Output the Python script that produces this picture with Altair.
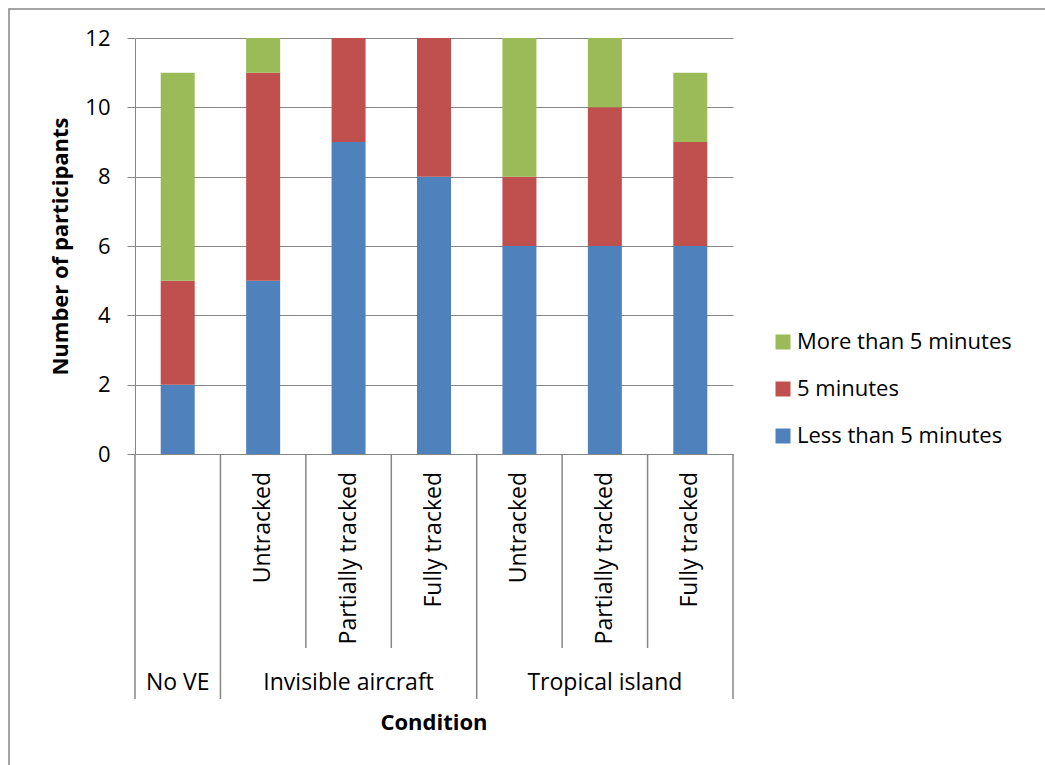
import altair as alt
import pandas as pd

# Bars, left to right
groups = ["No VE", "Invisible aircraft", "Invisible aircraft", "Invisible aircraft",
          "Tropical island", "Tropical island", "Tropical island"]
tracking = ["", "Untracked", "Partially tracked", "Fully tracked",
            "Untracked", "Partially tracked", "Fully tracked"]

# Number of participants per answer
less_than_5 = [2, 5, 9, 8, 6, 6, 6]
five_minutes = [3, 6, 3, 4, 2, 4, 3]
more_than_5 = [6, 1, 0, 0, 4, 2, 2]

series = ["Less than 5 minutes", "5 minutes", "More than 5 minutes"]
series_colors = ["#4F81BD", "#C0504D", "#9BBB59"]
y_ticks = [0, 2, 4, 6, 8, 10, 12]

FONT = "Open Sans"
GRAY = "#868686"
W, H = 598, 416

# long table for the stacked bars
rows = []
for i in range(len(groups)):
    for k, vals in enumerate([less_than_5, five_minutes, more_than_5]):
        rows.append({"pos": i, "series": series[k], "k": k, "count": vals[i]})
bars_df = pd.DataFrame(rows)

# category labels under the axis
sub_df = pd.DataFrame({"pos": list(range(len(groups))), "label": tracking})
sub_df = sub_df[sub_df["label"] != ""]

group_rows = []
for g in dict.fromkeys(groups):
    idx = [i for i, name in enumerate(groups) if name == g]
    group_rows.append({"pos": sum(idx) / len(idx), "label": g})
group_df = pd.DataFrame(group_rows)

# divider lines between categories: long ones between groups, short ones inside
div_rows = []
for b in range(len(groups) + 1):
    left = groups[b - 1] if b > 0 else None
    right = groups[b] if b < len(groups) else None
    div_rows.append({"edge": b - 0.5, "long": left != right})
div_df = pd.DataFrame(div_rows)

xscale = alt.Scale(domain=[-0.5, len(groups) - 0.5], nice=False, zero=False, padding=0)

bars = alt.Chart(bars_df).mark_bar(size=34).encode(
    x=alt.X("pos:Q", scale=xscale, axis=None),
    y=alt.Y("sum(count):Q", stack="zero",
            scale=alt.Scale(domain=[0, 12], nice=False),
            axis=alt.Axis(values=y_ticks, title="Number of participants",
                          titleFont=FONT, titleFontSize=22, titleFontWeight="bold",
                          titleColor="#000000", titlePadding=12,
                          labelFont=FONT, labelFontSize=22, labelColor="#000000",
                          labelPadding=17, tickSize=8, tickColor=GRAY,
                          domainColor=GRAY, gridColor=GRAY, grid=True)),
    color=alt.Color("series:N",
                    scale=alt.Scale(domain=series[::-1], range=series_colors[::-1]),
                    legend=alt.Legend(title=None, orient="none", legendX=637, legendY=293,
                                      symbolType="square", symbolSize=225,
                                      symbolStrokeWidth=0, labelFont=FONT,
                                      labelFontSize=22, labelColor="#000000",
                                      labelLimit=0, labelOffset=3, rowPadding=25,
                                      padding=0)),
    order=alt.Order("k:Q"),
)

short_div = alt.Chart(div_df[~div_df["long"]]).mark_rule(
    color=GRAY, strokeWidth=1.5, clip=False
).encode(x=alt.X("edge:Q", scale=xscale), y=alt.value(H), y2=alt.value(H + 194))

long_div = alt.Chart(div_df[div_df["long"]]).mark_rule(
    color=GRAY, strokeWidth=1.5, clip=False
).encode(x=alt.X("edge:Q", scale=xscale), y=alt.value(H), y2=alt.value(H + 245))

sub_text = alt.Chart(sub_df).mark_text(
    angle=270, align="right", baseline="middle", font=FONT, fontSize=23,
    color="#000000", clip=False
).encode(x=alt.X("pos:Q", scale=xscale), y=alt.value(H + 18), text="label:N")

group_text = alt.Chart(group_df).mark_text(
    align="center", baseline="middle", font=FONT, fontSize=23,
    color="#000000", clip=False
).encode(x=alt.X("pos:Q", scale=xscale), y=alt.value(H + 229), text="label:N")

x_title = alt.Chart(pd.DataFrame({"t": ["Condition"]})).mark_text(
    align="center", baseline="middle", font=FONT, fontSize=22, fontWeight="bold",
    color="#000000", clip=False
).encode(x=alt.value(W / 2), y=alt.value(H + 269), text="t:N")

frame = alt.Chart(pd.DataFrame({"t": [0]})).mark_rect(
    fill=None, stroke=GRAY, strokeWidth=1.5, clip=False
).encode(x=alt.value(-126), x2=alt.value(1045 - 135 + 20),
         y=alt.value(-29), y2=alt.value(765 - 38 + 20))

chart = alt.layer(frame, bars, short_div, long_div, sub_text, group_text, x_title).properties(
    width=W, height=H,
    autosize=alt.AutoSizeParams(type="none"),
    padding={"left": 135, "top": 38, "right": 312, "bottom": 311},
    background="#ffffff",
).configure_view(stroke=None)

chart.save("out.html", embed_options={"renderer": "svg", "actions": False})
